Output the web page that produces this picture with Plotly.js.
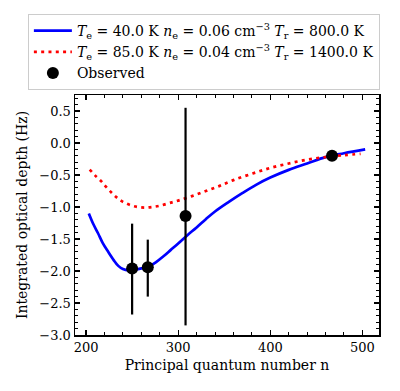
<!DOCTYPE html>
<html>
<head>
<meta charset="utf-8">
<script src="https://cdn.plot.ly/plotly-3.0.1.min.js"></script>
<style>
  html, body { margin: 0; padding: 0; background: #fff; }
  #chart { width: 400px; height: 391px; }
</style>
</head>
<body>
<div id="chart"></div>
<script>
// model 1: Te = 40 K, ne = 0.06, Tr = 800 K
const nModelA = [203, 208, 213, 218, 224, 230, 235, 240, 246, 252, 260, 268, 276, 284, 292, 300,
  310, 320, 330, 340, 355, 370, 385, 400, 420, 440, 460, 480, 503];
const tauModelA = [-1.10, -1.27, -1.41, -1.56, -1.70, -1.83, -1.92, -1.97, -1.99, -1.98, -1.96, -1.93,
  -1.86, -1.77, -1.67, -1.57, -1.44, -1.32, -1.19, -1.07, -0.92, -0.78, -0.65, -0.54, -0.42, -0.32,
  -0.22, -0.16, -0.10];

// model 2: Te = 85 K, ne = 0.04, Tr = 1400 K
const nModelB = [204, 210, 216, 222, 228, 234, 240, 248, 256, 264, 272, 280, 290, 300, 315, 330,
  345, 360, 380, 400, 420, 440, 460, 480, 498];
const tauModelB = [-0.415, -0.51, -0.59, -0.69, -0.78, -0.86, -0.92, -0.97, -1.00, -1.01, -1.00,
  -0.98, -0.94, -0.90, -0.83, -0.75, -0.67, -0.58, -0.48, -0.39, -0.32, -0.26, -0.22, -0.19, -0.17];

// observed lines
const nObs = [250, 267, 308, 467];
const tauObs = [-1.96, -1.94, -1.14, -0.20];
const errUp = [0.70, 0.43, 1.69, 0.04];
const errDown = [0.72, 0.46, 1.71, 0.04];

const labelA = '<i>T</i><sub>e</sub> = 40.0 K <i>n</i><sub>e</sub> = 0.06 cm<sup>−3</sup> <i>T</i><sub>r</sub> = 800.0 K';
const labelB = '<i>T</i><sub>e</sub> = 85.0 K <i>n</i><sub>e</sub> = 0.04 cm<sup>−3</sup> <i>T</i><sub>r</sub> = 1400.0 K';

const font = 'DejaVu Serif';

function axis(extra) {
  return {
    showgrid: false,
    zeroline: false,
    showline: true,
    linecolor: 'black',
    linewidth: 1.5,
    mirror: 'allticks',
    ticks: 'inside',
    ticklen: 5,
    tickwidth: 1.2,
    tickcolor: 'black',
    tickfont: { family: font, size: 13, color: 'black' },
    ...extra,
  };
}

const traces = [
  {
    type: 'scatter',
    mode: 'lines',
    x: nModelA,
    y: tauModelA,
    name: labelA,
    line: { color: '#0000ff', width: 2.7, shape: 'spline' },
  },
  {
    type: 'scatter',
    mode: 'lines',
    x: nModelB,
    y: tauModelB,
    name: labelB,
    line: { color: '#ff0000', width: 2.7, shape: 'spline', dash: '3px,4.3px' },
  },
  {
    type: 'scatter',
    mode: 'markers',
    x: nObs,
    y: tauObs,
    name: 'Observed',
    marker: { color: 'black', size: 12 },
    error_y: {
      type: 'data',
      symmetric: false,
      array: errUp,
      arrayminus: errDown,
      color: 'black',
      thickness: 2.2,
      width: 0,
    },
  },
];

const layout = {
  width: 400,
  height: 391,
  margin: { l: 75, r: 21, t: 95, b: 56 },
  paper_bgcolor: 'white',
  plot_bgcolor: 'white',
  font: { family: font, size: 14, color: 'black' },
  showlegend: true,
  legend: {
    x: -0.155,
    y: 1.3375,
    xanchor: 'left',
    yanchor: 'top',
    bgcolor: 'white',
    bordercolor: '#cccccc',
    borderwidth: 1,
    font: { family: font, size: 14, color: 'black' },
    itemwidth: 38,
    tracegroupgap: 0,
  },
  xaxis: axis({
    range: [188, 518],
    tickvals: [200, 300, 400, 500],
    minor: { dtick: 20, tick0: 200, ticks: 'inside', ticklen: 3, tickwidth: 1, tickcolor: 'black' },
    title: { text: 'Principal quantum number n', font: { family: font, size: 14, color: 'black' }, standoff: 6 },
  }),
  yaxis: axis({
    range: [-3.0, 0.75],
    tickvals: [-3.0, -2.5, -2.0, -1.5, -1.0, -0.5, 0.0, 0.5],
    tickformat: '.1f',
    minor: { dtick: 0.1, tick0: 0, ticks: 'inside', ticklen: 3, tickwidth: 1, tickcolor: 'black' },
    title: { text: 'Integrated optical depth (Hz)', font: { family: font, size: 14, color: 'black' }, standoff: 8 },
  }),
};

Plotly.newPlot('chart', traces, layout, { staticPlot: true, displayModeBar: false });
</script>
</body>
</html>
